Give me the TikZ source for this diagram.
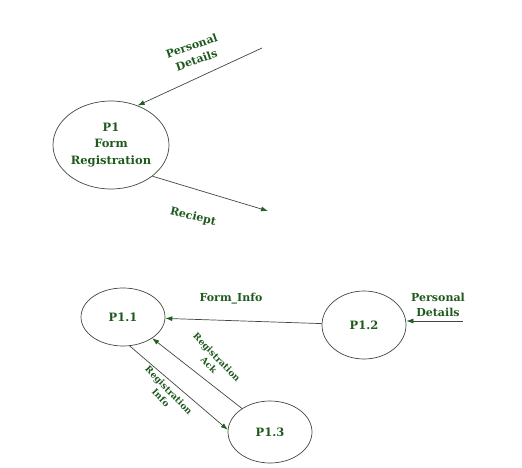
\documentclass[tikz,border=0pt]{standalone}
\usepackage{fontspec}
\setmainfont{DejaVu Serif}
\usetikzlibrary{shapes.geometric,arrows.meta}
\definecolor{txtgreen}{HTML}{1E5A1E}
\definecolor{linecol}{HTML}{3C4A3C}
\definecolor{tipgreen}{HTML}{1F5F1F}
\tikzset{
  proc/.style={ellipse,draw=linecol,line width=0.7pt,inner sep=0pt,text=txtgreen,font=\bfseries\fontsize{11.5}{16.5}\selectfont,align=center},
  flow/.style={draw=linecol,line width=0.7pt,-{Latex[length=7pt,width=5pt,fill=tipgreen,color=tipgreen]}},
  lbl/.style={text=txtgreen,font=\bfseries\fontsize{11}{15}\selectfont,align=center,inner sep=0pt},
  slbl/.style={text=txtgreen,font=\bfseries\fontsize{9}{11}\selectfont,align=center,inner sep=0pt}
}
\begin{document}
\begin{tikzpicture}[x=1pt,y=-1pt]
\useasboundingbox (0,0) rectangle (522,468);
% top diagram
\node[proc,minimum width=116pt,minimum height=88pt] (p1) at (111,145) {P1\\Form\\Registration};
\coordinate (pd1) at (262,48);
\coordinate (rc) at (268,211);
\draw[flow] (pd1) -- (p1.56);
\draw[flow] (p1.-37) -- (rc);
\node[lbl,rotate=19] (lpd1) at (194,53) {Personal\\Details};
\node[lbl,rotate=-13] (lrc) at (193,217) {Reciept};
% bottom diagram
\node[proc,minimum width=84pt,minimum height=58pt] (p11) at (123,317) {P1.1};
\node[proc,minimum width=84pt,minimum height=68pt] (p12) at (364,325) {P1.2};
\node[proc,minimum width=84pt,minimum height=62pt] (p13) at (270,432) {P1.3};
\coordinate (pd2) at (463,321);
\draw[flow] (p12) -- (p11);
\draw[flow] (pd2) -- (p12.east |- pd2);
\draw[flow] (p13.140) -- (p11.-36);
\draw[flow] (p11.-77) -- (p13.177);
\node[lbl] (lfi) at (231,299) {Form\_Info};
\node[lbl] (lpd2) at (438,305) {Personal\\Details};
\node[slbl,rotate=-46] (lack) at (213,361) {Registration\\Ack};
\node[slbl,rotate=-46] (linfo) at (165,394) {Registration\\Info};
\end{tikzpicture}
\end{document}
